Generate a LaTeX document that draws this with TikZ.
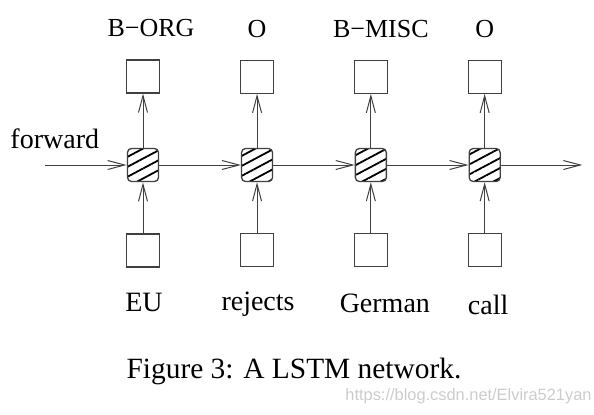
\documentclass[tikz,border=0pt]{standalone}
\usepackage{fontspec}
\setmainfont{Liberation Serif}
\setsansfont{Liberation Sans}
\usepackage{tikz}
\usetikzlibrary{arrows.meta, positioning, patterns.meta}
\definecolor{linegray}{gray}{0.25}
\definecolor{markgray}{gray}{0.8}

\begin{document}
\begin{tikzpicture}[x=0.5pt, y=-0.5pt,
cell/.style = {draw=linegray, line width=0.65pt, rounded corners=2pt,
  minimum width=15.5pt, minimum height=16.5pt, inner sep=0pt,
  pattern={Lines[angle=28, distance=4.4pt, line width=0.9pt]}},
vec/.style = {draw=linegray, line width=0.6pt, minimum size=16.5pt, inner sep=0pt},
tag/.style = {font=\fontsize{13}{15}\selectfont, inner sep=0pt, anchor=base},
word/.style = {font=\fontsize{14}{16}\selectfont, inner sep=0pt, anchor=base},
link/.style = {draw=linegray, line width=0.5pt},
node distance=40.75pt,
arrows = {-{Straight Barb[length=8.5pt, width=4.5pt]}}]

\useasboundingbox (0,0) rectangle (594,414);

% recurrent cells
\node (c1) [cell] at (143,165) {};
\node (c2) [cell, right=of c1] {};
\node (c3) [cell, right=of c2] {};
\node (c4) [cell, right=of c3] {};

% output vectors
\node (o1) [vec, above=27pt of c1] {};
\node (o2) [vec, above=27pt of c2] {};
\node (o3) [vec, above=27pt of c3] {};
\node (o4) [vec, above=27pt of c4] {};

% input vectors
\node (i1) [vec, below=25.5pt of c1] {};
\node (i2) [vec, below=25.5pt of c2] {};
\node (i3) [vec, below=25.5pt of c3] {};
\node (i4) [vec, below=25.5pt of c4] {};

% tags
\node (t1) [above=11.25pt of o1, tag, xshift=4pt] {B−ORG};
\node (t2) [above=11.25pt of o2, tag] {O};
\node (t3) [above=11.25pt of o3, tag, xshift=5pt] {B−MISC};
\node (t4) [above=11.25pt of o4, tag] {O};

% words
\node (w1) [below=21.75pt of i1, word, xshift=0.5pt] {EU};
\node (w2) [below=21.75pt of i2, word, xshift=0.5pt] {rejects};
\node (w3) [below=22.6pt of i3, word, xshift=7pt] {German};
\node (w4) [below=23.6pt of i4, word, xshift=1.75pt] {call};

% direction
\node (start) [coordinate, left=of c1] {};
\node (stop) [coordinate, right=of c4] {};
\node (fwd) [above=8.5pt of start, word, anchor=base west, xshift=-17.5pt] {forward};

% caption
\node (caption) [anchor=base, font=\fontsize{14.7}{17}\selectfont, inner sep=0pt]
  at (294,378) {Figure 3: A LSTM network.};
\node (mark) [anchor=base west, font=\sffamily\fontsize{8.2}{10}\selectfont,
  text=markgray, inner sep=0pt] at (345,400) {https://blog.csdn.net/Elvira521yan};

% connections
\draw [link] (start) -- (c1);
\draw [link] (c1) -- (c2);
\draw [link] (c2) -- (c3);
\draw [link] (c3) -- (c4);
\draw [link] (c4) -- (stop);
\draw [link] (i1) -- (c1);
\draw [link] (i2) -- (c2);
\draw [link] (i3) -- (c3);
\draw [link] (i4) -- (c4);
\draw [link] (c1) -- (o1);
\draw [link] (c2) -- (o2);
\draw [link] (c3) -- (o3);
\draw [link] (c4) -- (o4);

\end{tikzpicture}
\end{document}
